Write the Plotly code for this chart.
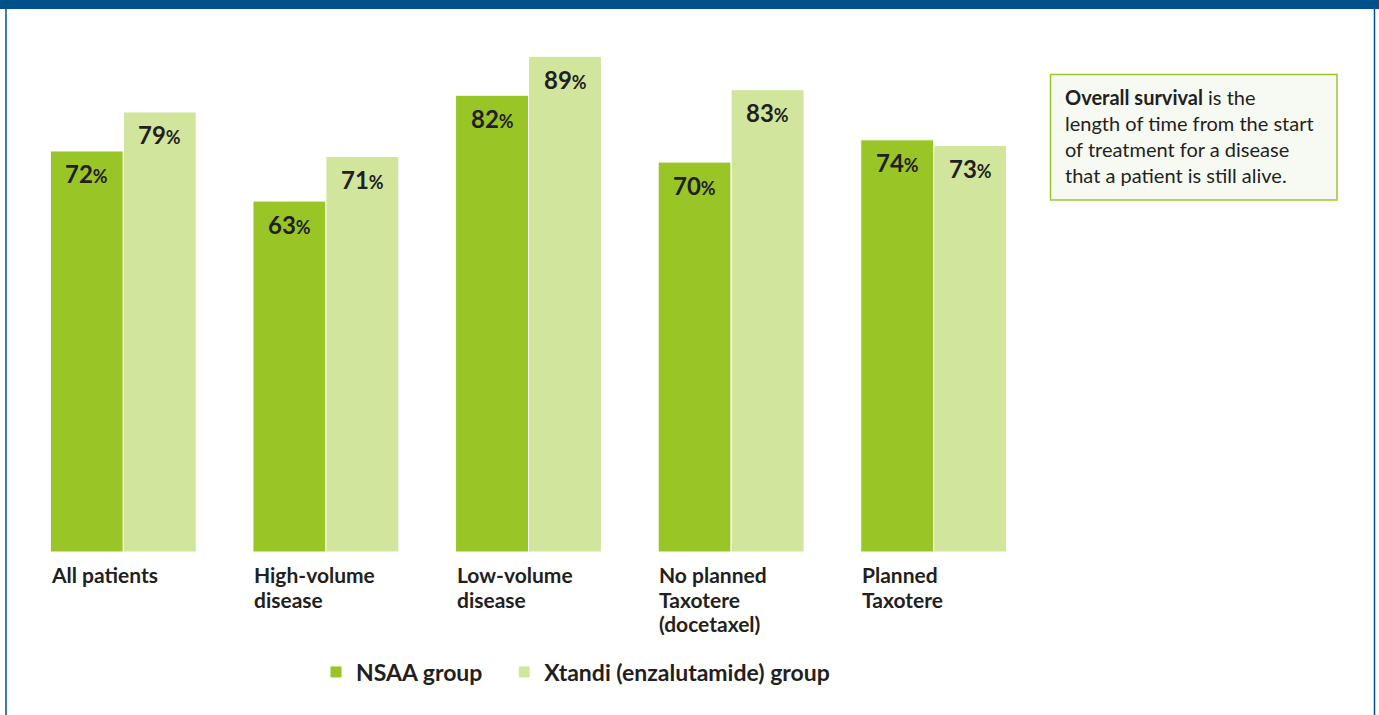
import plotly.graph_objects as go

categories = ["All patients", "High-volume disease", "Low-volume disease",
              "No planned Taxotere (docetaxel)", "Planned Taxotere"]
category_lines = [["All patients"], ["High-volume", "disease"], ["Low-volume", "disease"],
                  ["No planned", "Taxotere", "(docetaxel)"], ["Planned", "Taxotere"]]
nsaa = [72, 63, 82, 70, 74]
xtandi = [79, 71, 89, 83, 73]
series_names = ["NSAA group", "Xtandi (enzalutamide) group"]
info_text = ("<b>Overall survival</b> is the<br>length of time from the start<br>"
             "of treatment for a disease<br>that a patient is still alive.")

NSAA_COLOR = "#99c527"
XT_COLOR = "#d1e59d"
TEXT = "#231f20"
BLUE = "#00508c"
FONT = "Lato"

W, H = 1379, 715
ML, MR, MT, MB = 22, 344, 10, 163
PW = W - ML - MR
PH = H - MT - MB


def px_x(px):
    return (px - ML) / PW


def px_y(py):
    return (H - MB - py) / PH


fig = go.Figure()
for i, (name, vals, col) in enumerate([(series_names[0], nsaa, NSAA_COLOR),
                                        (series_names[1], xtandi, XT_COLOR)]):
    label = name + ("\u00a0" * 3 if i == 0 else "")
    fig.add_trace(go.Bar(
        x=categories, y=vals, name=label,
        marker=dict(color=col, line=dict(color="white", width=1)),
        hoverinfo="skip",
    ))

annotations = []
for cat, a, b in zip(categories, nsaa, xtandi):
    for v, sh in [(a, -36.5), (b, 36.5)]:
        annotations.append(dict(
            x=cat, y=v, xref="x", yref="y", xshift=sh, yshift=-23,
            text=f"{v}<span style='font-size:18px'>%</span>",
            showarrow=False, yanchor="middle",
            font=dict(family=FONT, size=24, color=TEXT, weight="bold"),
        ))

for cat, lines in zip(categories, category_lines):
    for k, line in enumerate(lines):
        annotations.append(dict(
            x=cat, y=0, xref="x", yref="y", xshift=-74, yshift=-8 - 24.6 * k,
            text=line, showarrow=False, xanchor="left", yanchor="top", align="left",
            font=dict(family=FONT, size=21, color=TEXT, weight="bold"),
        ))

annotations.append(dict(
    x=px_x(1063), y=px_y(83), xref="paper", yref="paper",
    xanchor="left", yanchor="top", align="left", showarrow=False,
    text=info_text,
    font=dict(family=FONT, size=20, color=TEXT),
))

shapes = [
    dict(type="rect", xref="paper", yref="paper",
         x0=px_x(1050.5), x1=px_x(1337), y0=px_y(200), y1=px_y(74.5),
         line=dict(color="#9bc62a", width=1.5), fillcolor="#f7faf2", layer="below"),
    dict(type="rect", xref="paper", yref="paper",
         x0=px_x(0), x1=px_x(W), y0=px_y(9), y1=px_y(-2),
         line=dict(width=0), fillcolor=BLUE),
    dict(type="line", xref="paper", yref="paper",
         x0=px_x(6), x1=px_x(6), y0=px_y(H + 2), y1=px_y(0),
         line=dict(color=BLUE, width=1.5)),
    dict(type="line", xref="paper", yref="paper",
         x0=px_x(1374.5), x1=px_x(1374.5), y0=px_y(H + 2), y1=px_y(0),
         line=dict(color=BLUE, width=1.5)),
]

fig.update_layout(
    width=W, height=H,
    margin=dict(l=ML, r=MR, t=MT, b=MB, pad=0),
    paper_bgcolor="white", plot_bgcolor="white",
    barmode="group", bargap=0.28, bargroupgap=0,
    xaxis=dict(range=[-0.5, 4.5], visible=False, type="category"),
    yaxis=dict(range=[0, PH / 5.57], visible=False),
    showlegend=True,
    legend=dict(
        orientation="h", x=px_x(316), xanchor="left", y=px_y(672), yanchor="middle",
        font=dict(family=FONT, size=23, color=TEXT, weight="bold"),
        itemclick=False, itemdoubleclick=False,
    ),
    annotations=annotations,
    shapes=shapes,
)

fig.write_html("out.html", config={"displayModeBar": False},
               post_script="document.body.style.margin='0';")
